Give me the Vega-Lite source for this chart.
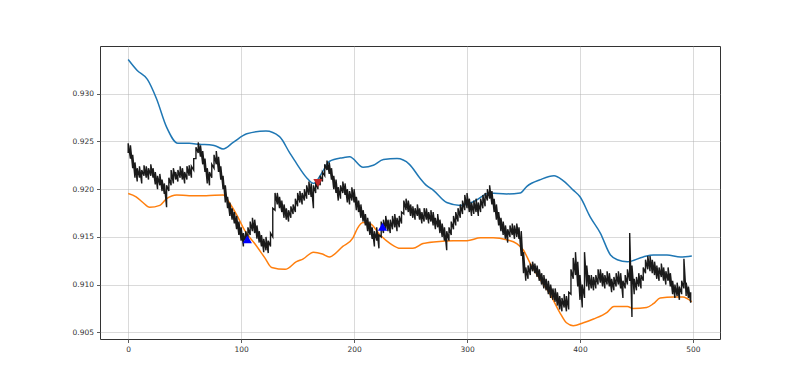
{
  "$schema": "https://vega.github.io/schema/vega-lite/v6.json",
  "width": 620,
  "height": 293,
  "autosize": "none",
  "padding": {"left": 100, "top": 46, "right": 80, "bottom": 42},
  "background": "white",
  "config": {
    "view": {"stroke": "#333333", "strokeWidth": 1},
    "axis": {
      "labelFont": "DejaVu Sans", "labelFontSize": 7.5, "labelColor": "#333333",
      "tickColor": "#333333", "tickSize": 3.5, "tickWidth": 0.8,
      "gridColor": "#b0b0b0", "gridOpacity": 0.6, "gridWidth": 0.8,
      "domain": false, "title": null, "labelPadding": 3
    }
  },
  "datasets": {
    "price": [
      {"x":0,"lo":0.9238,"hi":0.9248},{"x":2,"lo":0.9232,"hi":0.9246},{"x":4,"lo":0.9222,"hi":0.9236},{"x":6,"lo":0.9212,"hi":0.9228},{"x":8,"lo":0.9208,"hi":0.9222},{"x":10,"lo":0.9212,"hi":0.9224},{"x":12,"lo":0.9206,"hi":0.922},{"x":14,"lo":0.9214,"hi":0.9225},{"x":16,"lo":0.9212,"hi":0.9224},{"x":18,"lo":0.921,"hi":0.9222},
      {"x":20,"lo":0.9214,"hi":0.9226},{"x":22,"lo":0.9212,"hi":0.9222},{"x":24,"lo":0.9205,"hi":0.9218},{"x":26,"lo":0.92,"hi":0.9214},{"x":28,"lo":0.9204,"hi":0.9216},{"x":30,"lo":0.9198,"hi":0.921},{"x":32,"lo":0.9195,"hi":0.9206},{"x":34,"lo":0.9181,"hi":0.9204},{"x":36,"lo":0.9198,"hi":0.9212},{"x":38,"lo":0.9204,"hi":0.922},
      {"x":40,"lo":0.9206,"hi":0.9222},{"x":42,"lo":0.921,"hi":0.9218},{"x":44,"lo":0.9208,"hi":0.922},{"x":46,"lo":0.9212,"hi":0.9224},{"x":48,"lo":0.921,"hi":0.9222},{"x":50,"lo":0.9206,"hi":0.9218},{"x":52,"lo":0.921,"hi":0.9224},{"x":54,"lo":0.9214,"hi":0.9225},{"x":56,"lo":0.9212,"hi":0.9224},{"x":58,"lo":0.922,"hi":0.9232},
      {"x":60,"lo":0.9232,"hi":0.9244},{"x":62,"lo":0.9238,"hi":0.9249},{"x":64,"lo":0.9234,"hi":0.9246},{"x":66,"lo":0.9226,"hi":0.924},{"x":68,"lo":0.9218,"hi":0.9232},{"x":70,"lo":0.9206,"hi":0.9222},{"x":72,"lo":0.9204,"hi":0.9218},{"x":74,"lo":0.9212,"hi":0.9226},{"x":76,"lo":0.9222,"hi":0.9236},{"x":78,"lo":0.9226,"hi":0.924},
      {"x":80,"lo":0.9218,"hi":0.9234},{"x":82,"lo":0.921,"hi":0.9224},{"x":84,"lo":0.92,"hi":0.9214},{"x":86,"lo":0.9186,"hi":0.9204},{"x":88,"lo":0.918,"hi":0.9192},{"x":90,"lo":0.9172,"hi":0.9186},{"x":92,"lo":0.9168,"hi":0.918},{"x":94,"lo":0.9164,"hi":0.9176},{"x":96,"lo":0.9158,"hi":0.9172},{"x":98,"lo":0.9152,"hi":0.9166},
      {"x":100,"lo":0.9146,"hi":0.916},{"x":102,"lo":0.914,"hi":0.9154},{"x":104,"lo":0.9144,"hi":0.9156},{"x":106,"lo":0.9146,"hi":0.916},{"x":108,"lo":0.9152,"hi":0.9166},{"x":110,"lo":0.9156,"hi":0.917},{"x":112,"lo":0.9154,"hi":0.9168},{"x":114,"lo":0.9148,"hi":0.9162},{"x":116,"lo":0.9144,"hi":0.9156},{"x":118,"lo":0.914,"hi":0.9152},
      {"x":120,"lo":0.9134,"hi":0.9148},{"x":122,"lo":0.9136,"hi":0.915},{"x":124,"lo":0.9133,"hi":0.9146},{"x":126,"lo":0.914,"hi":0.9154},{"x":128,"lo":0.915,"hi":0.918},{"x":130,"lo":0.9178,"hi":0.9196},{"x":132,"lo":0.9184,"hi":0.9196},{"x":134,"lo":0.918,"hi":0.9192},{"x":136,"lo":0.9176,"hi":0.9188},{"x":138,"lo":0.917,"hi":0.9184},
      {"x":140,"lo":0.9168,"hi":0.918},{"x":142,"lo":0.9166,"hi":0.9178},{"x":144,"lo":0.917,"hi":0.9182},{"x":146,"lo":0.9174,"hi":0.9184},{"x":148,"lo":0.9176,"hi":0.919},{"x":150,"lo":0.9182,"hi":0.9196},{"x":152,"lo":0.9186,"hi":0.9198},{"x":154,"lo":0.9184,"hi":0.9196},{"x":156,"lo":0.9188,"hi":0.92},{"x":158,"lo":0.919,"hi":0.9204},
      {"x":160,"lo":0.9194,"hi":0.9208},{"x":162,"lo":0.9192,"hi":0.9206},{"x":164,"lo":0.918,"hi":0.9204},{"x":166,"lo":0.9196,"hi":0.9208},{"x":168,"lo":0.92,"hi":0.921},{"x":170,"lo":0.9204,"hi":0.9214},{"x":172,"lo":0.9208,"hi":0.9218},{"x":174,"lo":0.9214,"hi":0.9226},{"x":176,"lo":0.922,"hi":0.923},{"x":178,"lo":0.9216,"hi":0.9228},
      {"x":180,"lo":0.921,"hi":0.9222},{"x":182,"lo":0.92,"hi":0.9214},{"x":184,"lo":0.9196,"hi":0.921},{"x":186,"lo":0.9188,"hi":0.9202},{"x":188,"lo":0.919,"hi":0.9204},{"x":190,"lo":0.9196,"hi":0.9208},{"x":192,"lo":0.9194,"hi":0.9206},{"x":194,"lo":0.9186,"hi":0.92},{"x":196,"lo":0.9184,"hi":0.9198},{"x":198,"lo":0.9188,"hi":0.9202},
      {"x":200,"lo":0.9186,"hi":0.92},{"x":202,"lo":0.9178,"hi":0.9192},{"x":204,"lo":0.9176,"hi":0.9188},{"x":206,"lo":0.917,"hi":0.9184},{"x":208,"lo":0.9166,"hi":0.9178},{"x":210,"lo":0.9162,"hi":0.9174},{"x":212,"lo":0.9156,"hi":0.917},{"x":214,"lo":0.9152,"hi":0.9166},{"x":216,"lo":0.9148,"hi":0.916},{"x":218,"lo":0.914,"hi":0.9156},
      {"x":220,"lo":0.9146,"hi":0.916},{"x":222,"lo":0.9138,"hi":0.9152},{"x":224,"lo":0.915,"hi":0.9166},{"x":226,"lo":0.9154,"hi":0.9168},{"x":228,"lo":0.9158,"hi":0.9172},{"x":230,"lo":0.9156,"hi":0.9168},{"x":232,"lo":0.9154,"hi":0.9168},{"x":234,"lo":0.9158,"hi":0.9172},{"x":236,"lo":0.916,"hi":0.9174},{"x":238,"lo":0.9156,"hi":0.917},
      {"x":240,"lo":0.916,"hi":0.9172},{"x":242,"lo":0.9164,"hi":0.9176},{"x":244,"lo":0.9174,"hi":0.9188},{"x":246,"lo":0.9178,"hi":0.919},{"x":248,"lo":0.9176,"hi":0.9188},{"x":250,"lo":0.9172,"hi":0.9184},{"x":252,"lo":0.917,"hi":0.9182},{"x":254,"lo":0.9168,"hi":0.918},{"x":256,"lo":0.9172,"hi":0.9184},{"x":258,"lo":0.9168,"hi":0.918},
      {"x":260,"lo":0.9164,"hi":0.9176},{"x":262,"lo":0.9166,"hi":0.918},{"x":264,"lo":0.9168,"hi":0.918},{"x":266,"lo":0.9164,"hi":0.9176},{"x":268,"lo":0.9166,"hi":0.9178},{"x":270,"lo":0.9162,"hi":0.9176},{"x":272,"lo":0.9158,"hi":0.917},{"x":274,"lo":0.916,"hi":0.9174},{"x":276,"lo":0.9154,"hi":0.9168},{"x":278,"lo":0.915,"hi":0.9164},
      {"x":280,"lo":0.9146,"hi":0.916},{"x":282,"lo":0.9136,"hi":0.9156},{"x":284,"lo":0.9146,"hi":0.916},{"x":286,"lo":0.9152,"hi":0.9166},{"x":288,"lo":0.9158,"hi":0.9172},{"x":290,"lo":0.9162,"hi":0.9176},{"x":292,"lo":0.9166,"hi":0.918},{"x":294,"lo":0.917,"hi":0.9184},{"x":296,"lo":0.9174,"hi":0.9188},{"x":298,"lo":0.9178,"hi":0.9194},
      {"x":300,"lo":0.918,"hi":0.9196},{"x":302,"lo":0.9176,"hi":0.919},{"x":304,"lo":0.9172,"hi":0.9186},{"x":306,"lo":0.9174,"hi":0.9188},{"x":308,"lo":0.9176,"hi":0.919},{"x":310,"lo":0.9172,"hi":0.9186},{"x":312,"lo":0.9176,"hi":0.919},{"x":314,"lo":0.918,"hi":0.9194},{"x":316,"lo":0.9182,"hi":0.9196},{"x":318,"lo":0.9188,"hi":0.92},
      {"x":320,"lo":0.919,"hi":0.9204},{"x":322,"lo":0.9184,"hi":0.9198},{"x":324,"lo":0.9176,"hi":0.919},{"x":326,"lo":0.9168,"hi":0.9184},{"x":328,"lo":0.9162,"hi":0.9176},{"x":330,"lo":0.9156,"hi":0.917},{"x":332,"lo":0.9152,"hi":0.9166},{"x":334,"lo":0.9148,"hi":0.9162},{"x":336,"lo":0.9144,"hi":0.9158},{"x":338,"lo":0.915,"hi":0.9162},
      {"x":340,"lo":0.9152,"hi":0.9164},{"x":342,"lo":0.9148,"hi":0.9162},{"x":344,"lo":0.915,"hi":0.9164},{"x":346,"lo":0.9148,"hi":0.916},{"x":348,"lo":0.913,"hi":0.9156},{"x":350,"lo":0.9112,"hi":0.9134},{"x":352,"lo":0.9104,"hi":0.9118},{"x":354,"lo":0.9106,"hi":0.912},{"x":356,"lo":0.911,"hi":0.9122},{"x":358,"lo":0.9114,"hi":0.9124},
      {"x":360,"lo":0.9112,"hi":0.9122},{"x":362,"lo":0.9108,"hi":0.912},{"x":364,"lo":0.9104,"hi":0.9116},{"x":366,"lo":0.91,"hi":0.9112},{"x":368,"lo":0.9096,"hi":0.911},{"x":370,"lo":0.9094,"hi":0.9106},{"x":372,"lo":0.909,"hi":0.9104},{"x":374,"lo":0.9086,"hi":0.91},{"x":376,"lo":0.9084,"hi":0.9096},{"x":378,"lo":0.9082,"hi":0.9096},
      {"x":380,"lo":0.9078,"hi":0.9092},{"x":382,"lo":0.9074,"hi":0.9088},{"x":384,"lo":0.9072,"hi":0.9086},{"x":386,"lo":0.9076,"hi":0.909},{"x":388,"lo":0.9072,"hi":0.9088},{"x":390,"lo":0.9074,"hi":0.9092},{"x":392,"lo":0.909,"hi":0.9116},{"x":394,"lo":0.9106,"hi":0.9128},{"x":396,"lo":0.911,"hi":0.9134},{"x":398,"lo":0.9098,"hi":0.9124},
      {"x":400,"lo":0.9084,"hi":0.911},{"x":402,"lo":0.9076,"hi":0.91},{"x":404,"lo":0.9086,"hi":0.9134},{"x":406,"lo":0.9098,"hi":0.912},{"x":408,"lo":0.9094,"hi":0.911},{"x":410,"lo":0.9096,"hi":0.911},{"x":412,"lo":0.9094,"hi":0.9108},{"x":414,"lo":0.9096,"hi":0.911},{"x":416,"lo":0.91,"hi":0.9116},{"x":418,"lo":0.9102,"hi":0.9116},
      {"x":420,"lo":0.9098,"hi":0.9112},{"x":422,"lo":0.9096,"hi":0.911},{"x":424,"lo":0.91,"hi":0.9114},{"x":426,"lo":0.9098,"hi":0.9112},{"x":428,"lo":0.9092,"hi":0.9106},{"x":430,"lo":0.9094,"hi":0.9108},{"x":432,"lo":0.9098,"hi":0.9112},{"x":434,"lo":0.91,"hi":0.9114},{"x":436,"lo":0.9096,"hi":0.9112},{"x":438,"lo":0.9086,"hi":0.9104},
      {"x":440,"lo":0.9096,"hi":0.911},{"x":442,"lo":0.91,"hi":0.9116},{"x":444,"lo":0.9104,"hi":0.9154},{"x":446,"lo":0.9066,"hi":0.912},{"x":448,"lo":0.909,"hi":0.9106},{"x":450,"lo":0.9094,"hi":0.9108},{"x":452,"lo":0.9098,"hi":0.9112},{"x":454,"lo":0.9096,"hi":0.911},{"x":456,"lo":0.9104,"hi":0.9118},{"x":458,"lo":0.9112,"hi":0.9126},
      {"x":460,"lo":0.9116,"hi":0.913},{"x":462,"lo":0.9114,"hi":0.913},{"x":464,"lo":0.9112,"hi":0.9126},{"x":466,"lo":0.911,"hi":0.9124},{"x":468,"lo":0.9106,"hi":0.912},{"x":470,"lo":0.9104,"hi":0.9118},{"x":472,"lo":0.9108,"hi":0.9122},{"x":474,"lo":0.9104,"hi":0.9118},{"x":476,"lo":0.91,"hi":0.9114},{"x":478,"lo":0.9104,"hi":0.9118},
      {"x":480,"lo":0.9098,"hi":0.9112},{"x":482,"lo":0.909,"hi":0.9104},{"x":484,"lo":0.9086,"hi":0.91},{"x":486,"lo":0.9088,"hi":0.9102},{"x":488,"lo":0.9084,"hi":0.9098},{"x":490,"lo":0.909,"hi":0.9104},{"x":492,"lo":0.9096,"hi":0.9127},{"x":494,"lo":0.9088,"hi":0.9102},{"x":496,"lo":0.9086,"hi":0.9098},{"x":498,"lo":0.9081,"hi":0.9092}
    ],
    "upper": [
      {"x":0,"v":0.93359},{"x":8,"v":0.93244},{"x":17,"v":0.9315},{"x":25,"v":0.9295},{"x":34,"v":0.9265},{"x":44,"v":0.9248},{"x":54,"v":0.9248},{"x":63,"v":0.9247},{"x":75,"v":0.9246},{"x":78,"v":0.9245},{"x":84,"v":0.9242},{"x":93,"v":0.9249},{"x":105,"v":0.9258},{"x":122,"v":0.9261},{"x":134,"v":0.9255},{"x":143,"v":0.9238},{"x":149,"v":0.9227},{"x":158,"v":0.9212},{"x":164,"v":0.9206},{"x":172,"v":0.9218},{"x":178,"v":0.9229},{"x":190,"v":0.9233},{"x":196,"v":0.9234},{"x":208,"v":0.9223},{"x":217,"v":0.9225},{"x":226,"v":0.9231},{"x":238,"v":0.9232},{"x":249,"v":0.9226},{"x":258,"v":0.9212},{"x":264,"v":0.9204},{"x":270,"v":0.9199},{"x":282,"v":0.9186},{"x":294,"v":0.9183},{"x":306,"v":0.9187},{"x":320,"v":0.9196},{"x":335,"v":0.9195},{"x":347,"v":0.9196},{"x":353,"v":0.9203},{"x":365,"v":0.921},{"x":377,"v":0.9214},{"x":385,"v":0.9209},{"x":394,"v":0.9199},{"x":400,"v":0.9192},{"x":409,"v":0.9171},{"x":418,"v":0.9154},{"x":427,"v":0.9131},{"x":433,"v":0.9126},{"x":442,"v":0.9124},{"x":456,"v":0.9129},{"x":465,"v":0.9131},{"x":477,"v":0.9131},{"x":489,"v":0.9129},{"x":499,"v":0.913}
    ],
    "lower": [
      {"x":0,"v":0.91955},{"x":7,"v":0.9192},{"x":13,"v":0.9186},{"x":19,"v":0.9181},{"x":28,"v":0.9183},{"x":34,"v":0.919},{"x":43,"v":0.9194},{"x":54,"v":0.9193},{"x":69,"v":0.9193},{"x":84,"v":0.9194},{"x":90,"v":0.9185},{"x":97,"v":0.9171},{"x":103,"v":0.9157},{"x":112,"v":0.9143},{"x":121,"v":0.9128},{"x":127,"v":0.9118},{"x":139,"v":0.9116},{"x":149,"v":0.9124},{"x":155,"v":0.9127},{"x":164,"v":0.9134},{"x":172,"v":0.9132},{"x":178,"v":0.9129},{"x":190,"v":0.914},{"x":199,"v":0.9149},{"x":203,"v":0.9159},{"x":208,"v":0.9165},{"x":214,"v":0.9164},{"x":223,"v":0.9152},{"x":232,"v":0.9143},{"x":241,"v":0.9138},{"x":252,"v":0.9138},{"x":261,"v":0.9143},{"x":273,"v":0.9145},{"x":288,"v":0.9146},{"x":300,"v":0.9146},{"x":312,"v":0.9149},{"x":323,"v":0.9149},{"x":335,"v":0.9147},{"x":344,"v":0.9143},{"x":350,"v":0.9136},{"x":356,"v":0.9122},{"x":365,"v":0.9105},{"x":374,"v":0.9089},{"x":382,"v":0.9071},{"x":388,"v":0.906},{"x":394,"v":0.9057},{"x":403,"v":0.906},{"x":412,"v":0.9064},{"x":424,"v":0.9071},{"x":430,"v":0.9077},{"x":442,"v":0.9077},{"x":447,"v":0.9075},{"x":459,"v":0.9076},{"x":465,"v":0.908},{"x":471,"v":0.9086},{"x":483,"v":0.9087},{"x":491,"v":0.9087},{"x":499,"v":0.9082}
    ],
    "signals": [
      {"x":105.5,"v":0.91476,"kind":"buy"},
      {"x":225.2,"v":0.91605,"kind":"buy"},
      {"x":168,"v":0.92065,"kind":"sell"}
    ]
  },
  "encoding": {
    "x": {"type": "quantitative", "scale": {"domain": [-24.95, 523.95], "nice": false, "zero": false},
          "axis": {"values": [0, 100, 200, 300, 400, 500], "grid": true}}
  },
  "layer": [
    {
      "data": {"name": "upper"},
      "mark": {"type": "line", "color": "#1f77b4", "strokeWidth": 1.5, "interpolate": "monotone"},
      "encoding": {
        "x": {"field": "x", "type": "quantitative"},
        "y": {"field": "v", "type": "quantitative", "scale": {"domain": [0.9043, 0.935], "nice": false, "zero": false},
              "axis": {"values": [0.905, 0.91, 0.915, 0.92, 0.925, 0.93], "format": ".3f", "grid": true}}
      }
    },
    {
      "data": {"name": "lower"},
      "mark": {"type": "line", "color": "#ff7f0e", "strokeWidth": 1.5, "interpolate": "monotone"},
      "encoding": {
        "x": {"field": "x", "type": "quantitative"},
        "y": {"field": "v", "type": "quantitative"}
      }
    },
    {
      "data": {"name": "price"},
      "transform": [{"fold": ["lo", "hi"], "as": ["k", "p"]}],
      "mark": {"type": "line", "color": "#1a1a1a", "strokeWidth": 1.4, "strokeJoin": "miter"},
      "encoding": {
        "x": {"field": "x", "type": "quantitative"},
        "y": {"field": "p", "type": "quantitative"}
      }
    },
    {
      "data": {"name": "signals"},
      "mark": {"type": "point", "filled": true, "opacity": 1, "size": 85},
      "encoding": {
        "x": {"field": "x", "type": "quantitative"},
        "y": {"field": "v", "type": "quantitative"},
        "shape": {"field": "kind", "type": "nominal", "scale": {"domain": ["buy", "sell"], "range": ["triangle-up", "triangle-down"]}, "legend": null},
        "color": {"field": "kind", "type": "nominal", "scale": {"domain": ["buy", "sell"], "range": ["#0000ff", "#c0282a"]}, "legend": null}
      }
    }
  ]
}
